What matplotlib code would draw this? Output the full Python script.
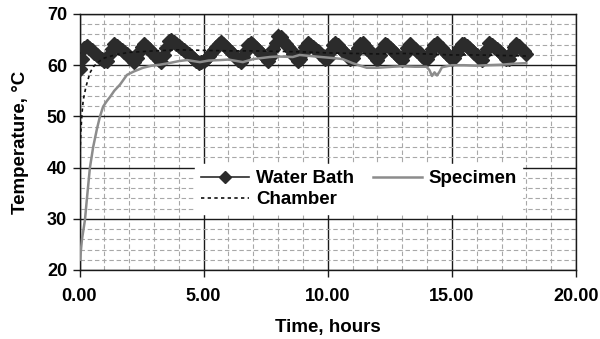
import numpy as np
import matplotlib
matplotlib.use('Agg')
from matplotlib import pyplot as plt
from matplotlib.ticker import MultipleLocator, FormatStrFormatter

plt.rcParams['font.family'] = ['Liberation Sans', 'DejaVu Sans']
plt.rcParams['font.weight'] = 'bold'

# water bath logged every 0.1 h, one row per hour
bath_step = 0.1
bath_temp = [
    59.2, 61.3, 63.4, 63.7, 63.3, 62.9, 62.4, 62.0, 61.6, 61.2,
    60.8, 60.9, 62.0, 63.1, 64.2, 63.8, 63.3, 62.9, 62.5, 62.1,
    61.6, 61.2, 60.7, 61.4, 62.5, 63.5, 64.1, 63.6, 63.1, 62.6,
    62.1, 61.6, 61.1, 60.6, 61.9, 63.3, 64.7, 65.0, 64.5, 64.1,
    63.7, 63.3, 62.9, 62.5, 62.1, 61.7, 61.3, 60.9, 60.4, 60.6,
    60.9, 61.3, 61.8, 62.4, 63.0, 63.6, 64.2, 64.6, 64.1, 63.6,
    63.1, 62.6, 62.1, 61.6, 61.1, 60.7, 61.6, 62.7, 63.9, 64.4,
    63.9, 63.4, 62.9, 62.4, 61.9, 61.4, 60.9, 61.7, 63.1, 64.4,
    65.7, 65.5, 64.8, 64.2, 63.5, 62.9, 62.2, 61.6, 60.9, 61.2,
    62.3, 63.5, 64.4, 64.0, 63.6, 63.1, 62.7, 62.2, 61.8, 61.3,
    61.4, 62.6, 63.9, 64.4, 63.9, 63.4, 62.8, 62.3, 61.8, 61.3,
    61.5, 62.4, 63.3, 64.2, 64.3, 63.8, 63.2, 62.7, 62.2, 61.6,
    61.1, 61.9, 63.1, 64.2, 63.9, 63.4, 62.9, 62.4, 61.9, 61.4,
    61.1, 62.2, 63.3, 64.1, 63.6, 63.2, 62.7, 62.3, 61.8, 61.3,
    61.3, 62.2, 63.1, 64.0, 64.3, 63.8, 63.3, 62.8, 62.2, 61.7,
    61.2, 61.5, 62.4, 63.3, 64.2, 64.2, 63.7, 63.3, 62.8, 62.4,
    61.9, 61.5, 61.0, 62.1, 63.2, 64.4, 64.0, 63.5, 63.1, 62.7,
    62.2, 61.8, 61.3, 61.2, 62.4, 63.6, 64.2, 63.7, 63.2, 62.7,
    62.2,
]
bath_hours = np.arange(len(bath_temp)) * bath_step

specimen_hours = [0.02, 0.1, 0.22, 0.3, 0.42, 0.55, 0.7, 0.82, 0.95, 1.1,
                  1.23, 1.4, 1.63, 1.91, 2.2, 2.56, 2.9, 3.24, 3.6, 4.0,
                  4.33, 4.85, 5.2, 5.65, 6.0, 6.58, 7.0, 7.67, 8.0, 8.59,
                  8.87, 9.5, 10.2, 10.6, 11.0, 11.57, 12.0, 12.62, 13.0,
                  13.5, 13.98, 14.1, 14.2, 14.3, 14.4, 14.5, 14.6, 15.0,
                  15.5, 16.0, 16.4, 17.0, 17.5, 18.0]
specimen_temp = [22.0, 26.0, 29.8, 34.0, 40.0, 44.0, 47.5, 49.9, 51.9, 53.0,
                 53.8, 55.0, 56.2, 58.1, 58.8, 59.5, 59.9, 60.1, 60.4, 60.8,
                 61.0, 60.6, 60.9, 61.0, 61.1, 60.6, 61.2, 61.6, 61.7, 61.6,
                 62.0, 61.7, 61.4, 61.2, 60.4, 59.5, 59.5, 59.7, 59.8,
                 59.7, 59.7, 59.0, 57.9, 58.6, 58.0, 58.7, 59.6, 60.0,
                 60.0, 59.9, 60.0, 60.1, 60.3, 60.4]

chamber_hours = [0.0, 0.03, 0.06, 0.1, 0.15, 0.26, 0.42, 0.56, 0.75, 1.0,
                 1.5, 2.0, 3.0, 4.0, 5.0, 6.0, 7.0, 8.0, 9.0, 10.0, 11.0,
                 12.0, 13.0, 14.0, 15.0, 16.0, 17.0, 18.0]
chamber_temp = [40.5, 44.0, 47.5, 50.5, 53.2, 55.8, 58.5, 59.7, 60.6, 61.4,
                62.1, 62.5, 62.8, 63.0, 62.9, 62.8, 62.8, 62.7, 62.6, 62.4,
                62.3, 62.2, 62.3, 62.2, 62.0, 62.0, 61.9, 61.8]

fig = plt.figure(figsize=(6, 3.39), dpi=100)
ax = fig.add_axes([79.5 / 600, 1 - 270 / 339, 496.5 / 600, 256 / 339])

bath, = ax.plot(bath_hours, bath_temp, color='#2b2b2b', lw=1.2,
                marker='D', ms=7.5, mec='#2b2b2b', mfc='#2b2b2b',
                label='Water Bath', zorder=3)
specimen, = ax.plot(specimen_hours, specimen_temp, color='#8c8c8c', lw=1.8,
                    label='Specimen', zorder=4)
chamber, = ax.plot(chamber_hours, chamber_temp, color='#111111', lw=1.2,
                   dashes=(2, 2), label='Chamber', zorder=5)

ax.set_xlim(0, 20)
ax.set_ylim(20, 70)
ax.xaxis.set_major_locator(MultipleLocator(5))
ax.xaxis.set_minor_locator(MultipleLocator(1))
ax.yaxis.set_major_locator(MultipleLocator(10))
ax.yaxis.set_minor_locator(MultipleLocator(2))
ax.xaxis.set_major_formatter(FormatStrFormatter('%.2f'))

ax.set_axisbelow(True)
ax.grid(which='minor', color='#a8a8a8', lw=0.8, dashes=(4, 2.5))
ax.grid(which='major', color='#1a1a1a', lw=1.0)
for s in ax.spines.values():
    s.set_color('#1a1a1a')
    s.set_linewidth(1.0)

ax.tick_params(which='major', direction='out', length=5, width=1,
               color='#1a1a1a', labelsize=13, pad=4)
ax.tick_params(axis='x', pad=8)
ax.tick_params(which='minor', length=0)

ax.set_xlabel('Time, hours', fontsize=13.5, fontweight='bold', labelpad=10)
ax.set_ylabel('Temperature, \u00b0C', fontsize=13.5, fontweight='bold',
              labelpad=13)

leg = ax.legend(handles=[bath, chamber, specimen], ncol=2, loc='center',
                bbox_to_anchor=(0.562, 0.316), fontsize=13.5,
                frameon=True, fancybox=False, framealpha=1,
                edgecolor='white', handlelength=2.6, handletextpad=0.35,
                columnspacing=1.0, labelspacing=0.2, borderpad=0.3,
                borderaxespad=0, markerscale=0.75)
leg.set_zorder(6)

fig.savefig('out.png', dpi=100)
